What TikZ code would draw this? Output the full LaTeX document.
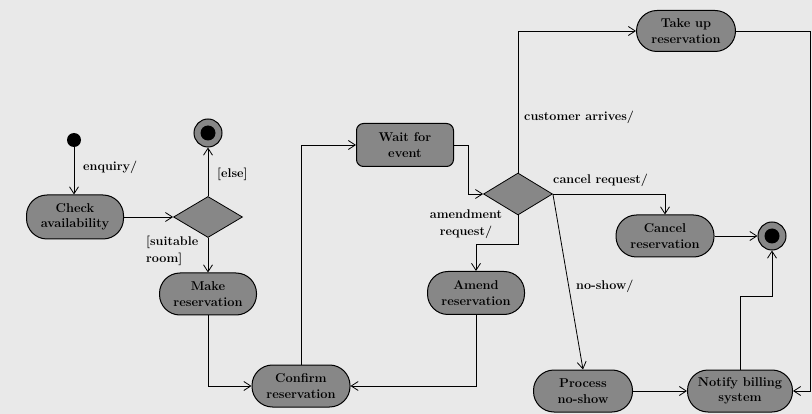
\documentclass[tikz,border=0pt]{standalone}
\usetikzlibrary{arrows.meta,shapes.geometric}
\definecolor{page}{gray}{0.915}
\definecolor{act}{gray}{0.53}
\begin{document}
\begin{tikzpicture}[x=1pt,y=-1pt,
  activity/.style={draw=black, line width=1pt, fill=act, rounded corners=20.5pt,
    minimum width=98pt, minimum height=42pt, inner sep=0pt, align=center,
    font=\fontsize{12.8}{15.5}\selectfont\bfseries},
  waitbox/.style={activity, rounded corners=7pt, minimum height=43pt},
  choice/.style={diamond, draw=black, line width=0.8pt, fill=act, inner sep=0pt,
    minimum width=69pt, minimum height=41pt},
  startdot/.style={circle, fill=black, inner sep=0pt, minimum size=14pt},
  enddot/.style={circle, draw=black, line width=1pt, fill=act, inner sep=0pt, minimum size=28pt},
  guard/.style={inner sep=0pt, font=\fontsize{12.6}{17}\selectfont\bfseries},
  flow/.style={draw=black, line width=0.8pt, -{Straight Barb[length=7pt,width=9pt]}},
]
\useasboundingbox (0,0) rectangle (812,414);
\fill[page] (0,0) rectangle (812,414);

% activity nodes
\node[startdot] (init) at (74,140) {};
\node[activity] (check) at (75,217) [minimum width=97pt, minimum height=44pt] {Check\\availability};
\node[choice] (dec1) at (208,217) {};
\node[enddot] (fin1) at (208,133) {};
\fill (fin1.center) circle (7.5pt);
\node[activity] (make) at (208,294) [minimum width=97pt] {Make\\reservation};
\node[activity] (confirm) at (301,386) {Confirm\\reservation};
\node[waitbox] (wait) at (405,145) [minimum width=97pt] {Wait for\\event};
\node[choice] (dec2) at (518,194) [minimum height=42pt] {};
\node[activity] (takeup) at (686,31) [minimum width=99pt, minimum height=41pt] {Take up\\reservation};
\node[activity] (cancel) at (665,236) {Cancel\\reservation};
\node[enddot] (fin2) at (772,236) {};
\fill (fin2.center) circle (7.5pt);
\node[activity] (amend) at (476,293) [minimum width=97pt, minimum height=43pt] {Amend\\reservation};
\node[activity] (process) at (583,391) [minimum width=99pt] {Process\\no-show};
\node[activity] (notify) at (740,391) [minimum width=105pt] {Notify billing\\system};

% corner of the return path along the right edge
\coordinate (outtop) at (810.5,31);

% transitions
\draw[flow] (init.south) -- (init.south |- check.north);
\draw[flow] (check.east) -- (dec1.west);
\draw[flow] (dec1.north) -- (fin1.south);
\draw[flow] (dec1.south) -- (make.north);
\draw[flow] (make.south) |- (confirm.west);
\draw[flow] (confirm.north) |- (wait.west);
\draw[flow] (wait.east) -- ++(14,0) |- (dec2.west);
\draw[flow] (dec2.north) |- (takeup.west);
\draw[flow] (takeup.east) -- (outtop) |- (notify.east);
\draw[flow] (dec2.east) -| (cancel.north);
\draw[flow] (cancel.east) -- (fin2.west);
\draw[flow] (dec2.south) -- ++(0,29) -| (amend.north);
\draw[flow] (amend.south) |- (confirm.east);
\draw[flow] (dec2.east) -- (process.north);
\draw[flow] (process.east) -- (notify.west);
\draw[flow] (notify.north) -- ++(0,-73) -| (fin2.south);

% guards and triggers
\node[guard, anchor=west] (lenq) at (83,167) {enquiry/};
\node[guard, anchor=west] (lelse) at (217,174) {[else]};
\node[guard, anchor=north west, align=left] (lsuit) at (146,236) {[suitable\\room]};
\node[guard, anchor=west] (lcust) at (524,117) {customer arrives/};
\node[guard, anchor=west] (lcanc) at (553,180) {cancel request/};
\node[guard, align=center] (lamend) at (466,224) {amendment\\request/};
\node[guard, anchor=west] (lnoshow) at (576,286) {no-show/};
\end{tikzpicture}
\end{document}
